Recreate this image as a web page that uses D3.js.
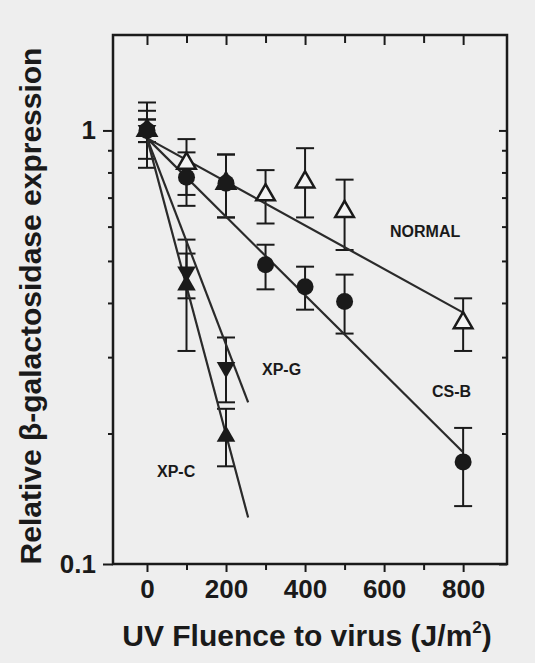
<!DOCTYPE html>
<html>
<head>
<meta charset="utf-8">
<script src="https://cdn.jsdelivr.net/npm/d3@7"></script>
<style>
  body { margin: 0; background: #eeeeee; }
  svg { display: block; }
  text { font-family: "Liberation Sans", Arial, Helvetica, sans-serif; font-weight: bold; fill: #1a1a1a; }
</style>
</head>
<body>
<div id="chart"></div>
<script>
// data
const fluence = [0, 100, 200, 300, 400, 500, 800];
const normalMean = [1.0, 0.84, 0.755, 0.71, 0.76, 0.65, 0.36];
const normalHi = [1.16, 0.955, 0.88, 0.81, 0.91, 0.77, 0.41];
const normalLo = [0.82, 0.71, 0.63, 0.61, 0.63, 0.53, 0.31];
const csbMean = [1.0, 0.78, 0.755, 0.49, 0.436, 0.403, 0.172];
const csbHi = [1.11, 0.89, 0.88, 0.545, 0.485, 0.465, 0.206];
const csbLo = [0.86, 0.67, 0.63, 0.43, 0.386, 0.34, 0.136];

const xpFluence = [0, 100, 200];
const xpgMean = [1.0, 0.472, 0.284];
const xpgHi = [1.06, 0.56, 0.333];
const xpgLo = [0.94, 0.41, 0.236];
const xpcMean = [1.0, 0.44, 0.197];
const xpcHi = [1.06, 0.52, 0.228];
const xpcLo = [0.94, 0.31, 0.168];

// fitted exponential lines, [fluence, value] end points
const normalFit = [[0, 0.96], [800, 0.38]];
const csbFit = [[0, 0.96], [800, 0.181]];
const xpgFit = [[0, 0.96], [256, 0.236]];
const xpcFit = [[0, 0.96], [256, 0.128]];

const xMajor = [0, 200, 400, 600, 800];
const xMinor = [100, 300, 500, 700];
const yMajor = [0.1, 1];
const yMinor = [0.2, 0.3, 0.4, 0.5, 0.6, 0.7, 0.8, 0.9];

const width = 535, height = 663;
const svg = d3.select("#chart").append("svg").attr("width", width).attr("height", height);

const x = d3.scaleLinear().domain([-86, 911]).range([113, 507]);
const y = d3.scaleLog().domain([0.1, 1.66]).range([564, 35]);

const ink = "#1a1a1a";

// axes
function styleAxis(g) {
    g.select(".domain").remove();
    g.selectAll("line").attr("stroke", ink).attr("stroke-width", 2);
    g.selectAll("text").attr("font-size", 26).attr("fill", ink);
}
svg.append("g").attr("transform", "translate(0,564)")
    .call(d3.axisBottom(x).tickValues(xMajor).tickSize(8).tickPadding(8).tickFormat(d3.format("d")))
    .call(styleAxis);
svg.append("g").attr("transform", "translate(0,564)")
    .call(d3.axisBottom(x).tickValues(xMinor).tickSize(6).tickFormat(""))
    .call(styleAxis);
svg.append("g").attr("transform", "translate(0,35)")
    .call(d3.axisTop(x).tickValues(xMajor).tickSize(-10).tickFormat(""))
    .call(styleAxis);
svg.append("g").attr("transform", "translate(0,35)")
    .call(d3.axisTop(x).tickValues(xMinor).tickSize(-8).tickFormat(""))
    .call(styleAxis);
svg.append("g").attr("transform", "translate(113,0)")
    .call(d3.axisLeft(y).tickValues(yMajor).tickSize(10).tickPadding(7).tickFormat(d => d === 1 ? "1" : "0.1"))
    .call(styleAxis);
svg.append("g").attr("transform", "translate(113,0)")
    .call(d3.axisLeft(y).tickValues(yMinor).tickSize(5).tickFormat(""))
    .call(styleAxis);
svg.append("g").attr("transform", "translate(507,0)")
    .call(d3.axisRight(y).tickValues(yMajor).tickSize(-8).tickFormat(""))
    .call(styleAxis);
svg.append("g").attr("transform", "translate(507,0)")
    .call(d3.axisRight(y).tickValues(yMinor).tickSize(-5).tickFormat(""))
    .call(styleAxis);

// frame
svg.append("rect")
    .attr("x", x.range()[0]).attr("y", y.range()[1])
    .attr("width", x.range()[1] - x.range()[0]).attr("height", y.range()[0] - y.range()[1])
    .attr("fill", "none").attr("stroke", ink).attr("stroke-width", 2.5);

// error bars
function errorBars(xs, hi, lo) {
    const g = svg.append("g").attr("stroke", ink).attr("stroke-width", 2);
    xs.forEach((v, i) => {
        const cx = x(v);
        g.append("line").attr("x1", cx).attr("x2", cx).attr("y1", y(hi[i])).attr("y2", y(lo[i]));
        g.append("line").attr("x1", cx - 9).attr("x2", cx + 9).attr("y1", y(hi[i])).attr("y2", y(hi[i]));
        g.append("line").attr("x1", cx - 9).attr("x2", cx + 9).attr("y1", y(lo[i])).attr("y2", y(lo[i]));
    });
}
errorBars(fluence, normalHi, normalLo);
errorBars(fluence, csbHi, csbLo);
errorBars(xpFluence, xpgHi, xpgLo);
errorBars(xpFluence, xpcHi, xpcLo);

// fit lines
const line = d3.line().x(d => x(d[0])).y(d => y(d[1]));
[normalFit, csbFit, xpgFit, xpcFit].forEach(f => {
    svg.append("path").attr("d", line(f)).attr("fill", "none").attr("stroke", "#2a2a2a").attr("stroke-width", 2.2);
});

// markers
const tri = d3.symbol(d3.symbolTriangle, 150);
svg.append("g").selectAll("path").data(fluence).join("path")
    .attr("d", tri)
    .attr("transform", (d, i) => `translate(${x(d)},${y(normalMean[i])})`)
    .attr("fill", "#f4f4f4").attr("stroke", ink).attr("stroke-width", 2.5);
svg.append("g").selectAll("path").data(xpFluence).join("path")
    .attr("d", tri)
    .attr("transform", (d, i) => `translate(${x(d)},${y(xpgMean[i])}) rotate(180)`)
    .attr("fill", ink);
svg.append("g").selectAll("path").data(xpFluence).join("path")
    .attr("d", tri)
    .attr("transform", (d, i) => `translate(${x(d)},${y(xpcMean[i])})`)
    .attr("fill", ink);
svg.append("g").selectAll("circle").data(fluence).join("circle")
    .attr("cx", d => x(d))
    .attr("cy", (d, i) => y(csbMean[i]))
    .attr("r", 8.5)
    .attr("fill", ink);

// series labels
const labels = [
    { t: "NORMAL", x: 390, y: 237 },
    { t: "CS-B", x: 432, y: 397 },
    { t: "XP-G", x: 262, y: 375 },
    { t: "XP-C", x: 157, y: 477 }
];
svg.append("g").selectAll("text").data(labels).join("text")
    .attr("x", d => d.x).attr("y", d => d.y)
    .attr("font-size", 16)
    .text(d => d.t);

// axis titles
const xt = svg.append("text")
    .attr("x", 307).attr("y", 646)
    .attr("text-anchor", "middle")
    .attr("font-size", 30);
xt.append("tspan").text("UV Fluence to virus (J/m");
xt.append("tspan").attr("font-size", 17).attr("dy", -13).text("2");
xt.append("tspan").attr("dy", 13).text(")");

svg.append("text")
    .attr("transform", "translate(41,306) rotate(-90)")
    .attr("text-anchor", "middle")
    .attr("font-size", 30)
    .text("Relative β-galactosidase expression");
</script>
</body>
</html>
